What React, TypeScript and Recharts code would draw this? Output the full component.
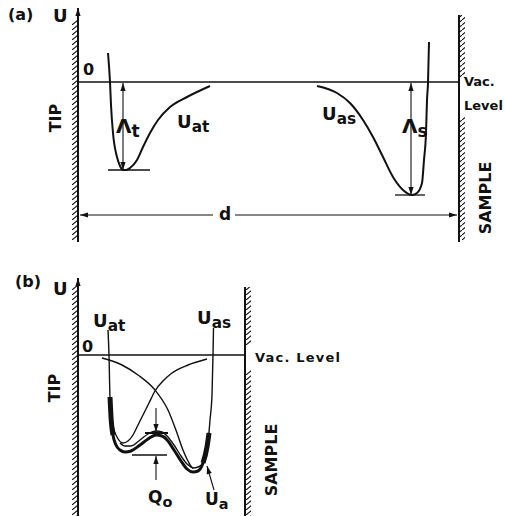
import React from 'react';
import {
  LineChart,
  Line,
  XAxis,
  YAxis,
  ReferenceLine,
  ReferenceArea,
  ReferenceDot,
} from 'recharts';

// units: x = distance from the tip surface, u = energy relative to the vacuum level
// panel (a)
const uatA = [[30, 29], [32, 0], [33, -23], [35, -51], [39, -75], [42, -84], [45, -88], [48, -88], [52, -86], [59, -78], [65, -65], [72, -51], [80, -38], [92, -25], [109, -15], [132, -4]];
const uasA = [[239, -4], [259, -11], [272, -21], [285, -38], [295, -55], [305, -75], [315, -95], [325, -108], [334, -113], [339, -111], [344, -101], [346, -78], [348, -51], [349, -18], [350, -1], [351, 40]];
const GAP_A = 381; // d
const LAMBDA_T = -88;
const LAMBDA_S = -113;

// panel (b)
const uatB = [[30, 25], [31, 0], [32, -42], [35, -70], [39, -82], [45, -88], [50, -86], [55, -80], [59, -72], [65, -60], [71, -48], [77, -36], [86, -25], [94, -18], [110, -10], [129, -4]];
const uasB = [[24, -3], [44, -10], [60, -20], [77, -35], [90, -55], [99, -78], [105, -95], [110, -106], [115, -113], [120, -112], [125, -108], [130, -88], [132, -65], [134, -40], [135, 0], [135.5, 27]];
const uaB = [[32, -42], [33, -62], [35, -80], [38, -90], [42, -95], [47, -97], [53, -96], [62, -90], [70, -84], [78, -80], [84, -81], [90, -86], [96, -95], [103, -106], [109, -114], [115, -117], [120, -116], [125, -108], [129, -92], [131, -78]];
const uaUpperB = [[42, -88], [47, -91], [53, -91], [62, -85], [70, -79], [78, -76], [84, -77], [90, -82], [96, -90], [103, -101], [109, -109], [115, -113]];
const uaWallTipB = [[32, -42], [33, -62], [35, -80]];
const uaWallSampleB = [[125, -108], [129, -92], [131, -78]];
const GAP_B = 167;
const Q_TOP = -78;
const Q_BOTTOM = -100;

const INK = '#111';
const FONT = '"DejaVu Sans", sans-serif';

const pts = (arr: number[][]) => arr.map(([x, u]) => ({ x, u }));

function arrow(head: 'none' | 'start' | 'end' | 'both', width = 1.3) {
  return (p: any) => {
    const { x1, y1, x2, y2 } = p;
    const ang = Math.atan2(y2 - y1, x2 - x1);
    const tri = (x: number, y: number, a: number) => {
      const L = 8;
      const W = 2.6;
      const bx = x - L * Math.cos(a);
      const by = y - L * Math.sin(a);
      const nx = -Math.sin(a) * W;
      const ny = Math.cos(a) * W;
      return <polygon points={`${x},${y} ${bx + nx},${by + ny} ${bx - nx},${by - ny}`} fill={INK} />;
    };
    return (
      <g>
        <line x1={x1} y1={y1} x2={x2} y2={y2} stroke={INK} strokeWidth={width} />
        {(head === 'end' || head === 'both') && tri(x2, y2, ang)}
        {(head === 'start' || head === 'both') && tri(x1, y1, ang + Math.PI)}
      </g>
    );
  };
}

function seg(key: string, a: [number, number], b: [number, number], head: 'none' | 'start' | 'end' | 'both' = 'none', width = 1.3) {
  return (
    <ReferenceLine
      key={key}
      segment={[{ x: a[0], y: a[1] }, { x: b[0], y: b[1] }]}
      ifOverflow="visible"
      shape={arrow(head, width)}
    />
  );
}

function hatch(key: string, x1: number, x2: number, y1: number, y2: number, id: string) {
  return (
    <ReferenceArea key={key} x1={x1} x2={x2} y1={y1} y2={y2} fill={`url(#${id})`} fillOpacity={1} stroke="none" ifOverflow="visible" />
  );
}

function txt(
  key: string,
  x: number,
  y: number,
  main: string,
  sub?: string,
  o: { size?: number; anchor?: string; rotate?: boolean; spacing?: number } = {}
) {
  const size = o.size ?? 17;
  return (
    <ReferenceDot
      key={key}
      x={x}
      y={y}
      r={0}
      ifOverflow="visible"
      shape={(p: any) => (
        <text
          x={p.cx}
          y={p.cy}
          fill={INK}
          fontFamily={FONT}
          fontWeight="bold"
          fontSize={size}
          letterSpacing={o.spacing ?? 0}
          textAnchor={o.anchor ?? 'start'}
          dominantBaseline={o.rotate ? 'central' : 'auto'}
          transform={o.rotate ? `rotate(-90 ${p.cx} ${p.cy})` : undefined}
        >
          {main}
          {sub && (
            <tspan dy={4} fontSize={size * 0.85}>
              {sub}
            </tspan>
          )}
        </text>
      )}
    />
  );
}

function curve(key: string, data: number[][], width: number) {
  return (
    <Line
      key={key}
      data={pts(data)}
      dataKey="u"
      type="monotone"
      stroke={INK}
      strokeWidth={width}
      dot={false}
      activeDot={false}
      isAnimationActive={false}
    />
  );
}

function Hatch({ id }: { id: string }) {
  return (
    <defs>
      <pattern id={id} patternUnits="userSpaceOnUse" width="6" height="5">
        <line x1="0" y1="5" x2="6" y2="0" stroke={INK} strokeWidth="1.1" />
      </pattern>
    </defs>
  );
}

function PanelA() {
  return (
    <LineChart width={505} height={250} margin={{ top: 0, right: 0, bottom: 0, left: 0 }}>
      <Hatch id="hatchA" />
      <XAxis type="number" dataKey="x" domain={[-78, 427]} allowDataOverflow hide />
      <YAxis type="number" domain={[-168, 82]} allowDataOverflow hide />
      {hatch('hl', -6, 0, -158, 62, 'hatchA')}
      {hatch('hr1', GAP_A, GAP_A + 6, 4, 67, 'hatchA')}
      {hatch('hr2', GAP_A, GAP_A + 6, -158, -35, 'hatchA')}
      {seg('wl', [0, -160], [0, 74], 'end', 2)}
      {seg('wr', [GAP_A, 67], [GAP_A, -160], 'none', 2)}
      {seg('vac', [0, 0], [GAP_A, 0], 'none', 1.4)}
      {seg('lt', [45, -1], [45, LAMBDA_T], 'both', 1.1)}
      {seg('ltb', [30, LAMBDA_T], [72, LAMBDA_T], 'none', 1.3)}
      {seg('ls', [333, -1], [333, LAMBDA_S], 'both', 1.1)}
      {seg('lsb', [317, LAMBDA_S], [347, LAMBDA_S], 'none', 1.3)}
      {seg('d1', [135, -133], [2, -133], 'end', 1.1)}
      {seg('d2', [157, -133], [GAP_A - 2, -133], 'end', 1.1)}
      {curve('uat', uatA, 2)}
      {curve('uas', uasA, 2)}
      {txt('a', -70, 62, '(a)', undefined, { size: 16 })}
      {txt('U', -25, 60, 'U', undefined, { size: 18 })}
      {txt('0', 5, 7, '0', undefined, { size: 16 })}
      {txt('Lt', 38, -51, 'Λ', 't', { size: 20 })}
      {txt('Uat', 99, -46, 'U', 'at', { size: 18 })}
      {txt('Uas', 244, -38, 'U', 'as', { size: 18 })}
      {txt('Ls', 324, -51, 'Λ', 's', { size: 20 })}
      {txt('d', 147, -138, 'd', undefined, { size: 17, anchor: 'middle' })}
      {txt('vac1', 386, -4, 'Vac.', undefined, { size: 13 })}
      {txt('vac2', 386, -28, 'Level', undefined, { size: 13 })}
      {txt('tip', -23, -36, 'TIP', undefined, { size: 16, rotate: true, anchor: 'middle' })}
      {txt('smp', 407, -116, 'SAMPLE', undefined, { size: 16, rotate: true, anchor: 'middle' })}
    </LineChart>
  );
}

function PanelB() {
  return (
    <LineChart width={505} height={266} margin={{ top: 0, right: 0, bottom: 0, left: 0 }}>
      <Hatch id="hatchB" />
      <XAxis type="number" dataKey="x" domain={[-78, 427]} allowDataOverflow hide />
      <YAxis type="number" domain={[-161, 105]} allowDataOverflow hide />
      {hatch('hl', -6, 0, -161, 70, 'hatchB')}
      {hatch('hr1', GAP_B, GAP_B + 6, 10, 68, 'hatchB')}
      {hatch('hr2', GAP_B, GAP_B + 6, -161, -15, 'hatchB')}
      {seg('wl', [0, -161], [0, 77], 'end', 2)}
      {seg('wr', [GAP_B, 68], [GAP_B, -161], 'none', 2)}
      {seg('vac', [0, 0], [GAP_B, 0], 'none', 1.4)}
      {seg('q1', [78, -53], [78, Q_TOP + 1], 'end', 1.1)}
      {seg('q1b', [67, Q_TOP], [90, Q_TOP], 'none', 2)}
      {seg('q2', [78, -125], [78, Q_BOTTOM - 1], 'end', 1.1)}
      {seg('q2b', [54, Q_BOTTOM], [89, Q_BOTTOM], 'none', 1.3)}
      {seg('ua', [136, -135], [129, -111], 'end', 1.1)}
      {curve('uat', uatB, 1.4)}
      {curve('uas', uasB, 1.4)}
      {curve('uaUp', uaUpperB, 1.4)}
      {curve('ua', uaB, 3)}
      {curve('w1', uaWallTipB, 5)}
      {curve('w2', uaWallSampleB, 5)}
      {txt('b', -63, 68, '(b)', undefined, { size: 16 })}
      {txt('U', -25, 60, 'U', undefined, { size: 18 })}
      {txt('0', 4, 3, '0', undefined, { size: 16 })}
      {txt('Uat', 15, 28, 'U', 'at', { size: 18 })}
      {txt('Uas', 119, 31, 'U', 'as', { size: 18 })}
      {txt('vac', 177, -7, 'Vac. Level', undefined, { size: 13, spacing: 1.2 })}
      {txt('tip', -24, -33, 'TIP', undefined, { size: 16, rotate: true, anchor: 'middle' })}
      {txt('smp', 193, -105, 'SAMPLE', undefined, { size: 16, rotate: true, anchor: 'middle' })}
      {txt('Q', 70, -148, 'Q', 'o', { size: 17 })}
      {txt('Ua', 127, -150, 'U', 'a', { size: 17 })}
    </LineChart>
  );
}

export default function App() {
  return (
    <div style={{ position: 'absolute', left: 0, top: 0, width: 505, height: 516, background: '#fff' }}>
      <div style={{ position: 'absolute', left: 0, top: 0 }}>
        <PanelA />
      </div>
      <div style={{ position: 'absolute', left: 0, top: 250 }}>
        <PanelB />
      </div>
    </div>
  );
}
